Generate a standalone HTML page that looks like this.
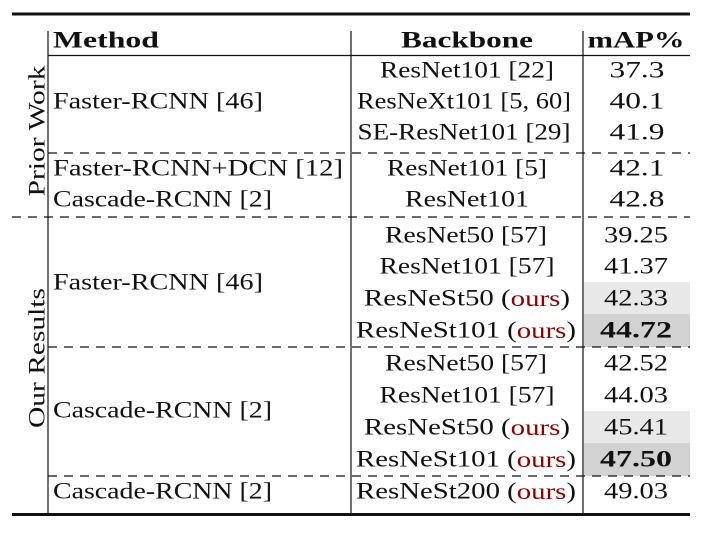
<!DOCTYPE html>
<html><head><meta charset="utf-8"><style>
html,body{margin:0;padding:0;background:#fff;width:703px;height:534px;overflow:hidden}
svg text{font-family:"Liberation Serif","DejaVu Serif",serif;font-size:23px;fill:#111}
.b{font-weight:bold}
.o{fill:#8b0000}
</style></head><body>
<svg width="703" height="534">
<g>
<rect x="584" y="282" width="106" height="32" fill="#e8e8e8"/>
<rect x="584" y="314" width="106" height="33" fill="#d2d2d2"/>
<rect x="584" y="411" width="106" height="32" fill="#e8e8e8"/>
<rect x="584" y="443" width="106" height="33" fill="#d2d2d2"/>
</g>
<g stroke="#111">
<line x1="12" y1="14" x2="690" y2="14" stroke-width="3"/>
<line x1="12" y1="514.5" x2="690" y2="514.5" stroke-width="3"/>
<line x1="48" y1="31" x2="48" y2="513" stroke-width="1.2"/>
<line x1="351" y1="31" x2="351" y2="513" stroke-width="1.2"/>
<line x1="583" y1="31" x2="583" y2="513" stroke-width="1.2"/>
<line x1="48" y1="55.5" x2="690" y2="55.5" stroke-width="1.2"/>
<g stroke-dasharray="9,7" stroke-width="1.2">
<line x1="48" y1="153" x2="690" y2="153"/>
<line x1="12" y1="217" x2="690" y2="217"/>
<line x1="48" y1="347" x2="690" y2="347"/>
<line x1="48" y1="476" x2="690" y2="476"/>
</g>
</g>
<g dominant-baseline="central" lengthAdjust="spacingAndGlyphs">
<text x="53" y="40" class="b" textLength="106" lengthAdjust="spacingAndGlyphs">Method</text>
<text x="467" y="40" class="b" text-anchor="middle" textLength="132" lengthAdjust="spacingAndGlyphs">Backbone</text>
<text x="636" y="40" class="b" text-anchor="middle" textLength="97" lengthAdjust="spacingAndGlyphs">mAP%</text>
<text transform="translate(37,131) rotate(-90)" text-anchor="middle" textLength="131" lengthAdjust="spacingAndGlyphs">Prior Work</text>
<text transform="translate(37,358) rotate(-90)" text-anchor="middle" textLength="140" lengthAdjust="spacingAndGlyphs">Our Results</text>
<g>
<text x="53" y="101" textLength="210" lengthAdjust="spacingAndGlyphs">Faster-RCNN [46]</text>
<text x="53" y="168" textLength="290" lengthAdjust="spacingAndGlyphs">Faster-RCNN+DCN [12]</text>
<text x="53" y="199" textLength="219" lengthAdjust="spacingAndGlyphs">Cascade-RCNN [2]</text>
<text x="53" y="282" textLength="210" lengthAdjust="spacingAndGlyphs">Faster-RCNN [46]</text>
<text x="53" y="410" textLength="219" lengthAdjust="spacingAndGlyphs">Cascade-RCNN [2]</text>
<text x="53" y="491" textLength="219" lengthAdjust="spacingAndGlyphs">Cascade-RCNN [2]</text>
</g>
<g text-anchor="middle">
<text x="467" y="70" textLength="174" lengthAdjust="spacingAndGlyphs">ResNet101 [22]</text>
<text x="464" y="101" textLength="214" lengthAdjust="spacingAndGlyphs">ResNeXt101 [5, 60]</text>
<text x="464" y="132" textLength="213" lengthAdjust="spacingAndGlyphs">SE-ResNet101 [29]</text>
<text x="467" y="168" textLength="160" lengthAdjust="spacingAndGlyphs">ResNet101 [5]</text>
<text x="467" y="199" textLength="124" lengthAdjust="spacingAndGlyphs">ResNet101</text>
<text x="466" y="235" textLength="162" lengthAdjust="spacingAndGlyphs">ResNet50 [57]</text>
<text x="467" y="266" textLength="175" lengthAdjust="spacingAndGlyphs">ResNet101 [57]</text>
<text x="467" y="298" textLength="206" lengthAdjust="spacingAndGlyphs">ResNeSt50 (<tspan class="o">ours</tspan>)</text>
<text x="466" y="330" textLength="220" lengthAdjust="spacingAndGlyphs">ResNeSt101 (<tspan class="o">ours</tspan>)</text>
<text x="466" y="363" textLength="162" lengthAdjust="spacingAndGlyphs">ResNet50 [57]</text>
<text x="467" y="395" textLength="175" lengthAdjust="spacingAndGlyphs">ResNet101 [57]</text>
<text x="467" y="427" textLength="206" lengthAdjust="spacingAndGlyphs">ResNeSt50 (<tspan class="o">ours</tspan>)</text>
<text x="466" y="459" textLength="220" lengthAdjust="spacingAndGlyphs">ResNeSt101 (<tspan class="o">ours</tspan>)</text>
<text x="466" y="491" textLength="220" lengthAdjust="spacingAndGlyphs">ResNeSt200 (<tspan class="o">ours</tspan>)</text>
</g>
<g text-anchor="middle">
<text x="637" y="70" textLength="55" lengthAdjust="spacingAndGlyphs">37.3</text>
<text x="637" y="101" textLength="55" lengthAdjust="spacingAndGlyphs">40.1</text>
<text x="637" y="132" textLength="55" lengthAdjust="spacingAndGlyphs">41.9</text>
<text x="637" y="168" textLength="55" lengthAdjust="spacingAndGlyphs">42.1</text>
<text x="637" y="199" textLength="55" lengthAdjust="spacingAndGlyphs">42.8</text>
<text x="636" y="235" textLength="64" lengthAdjust="spacingAndGlyphs">39.25</text>
<text x="636" y="266" textLength="64" lengthAdjust="spacingAndGlyphs">41.37</text>
<text x="636" y="298" textLength="64" lengthAdjust="spacingAndGlyphs">42.33</text>
<text x="636" y="330" class="b" textLength="72" lengthAdjust="spacingAndGlyphs">44.72</text>
<text x="636" y="363" textLength="64" lengthAdjust="spacingAndGlyphs">42.52</text>
<text x="636" y="395" textLength="64" lengthAdjust="spacingAndGlyphs">44.03</text>
<text x="636" y="427" textLength="64" lengthAdjust="spacingAndGlyphs">45.41</text>
<text x="636" y="459" class="b" textLength="72" lengthAdjust="spacingAndGlyphs">47.50</text>
<text x="636" y="491" textLength="64" lengthAdjust="spacingAndGlyphs">49.03</text>
</g>
</g>
</svg>
</body></html>
